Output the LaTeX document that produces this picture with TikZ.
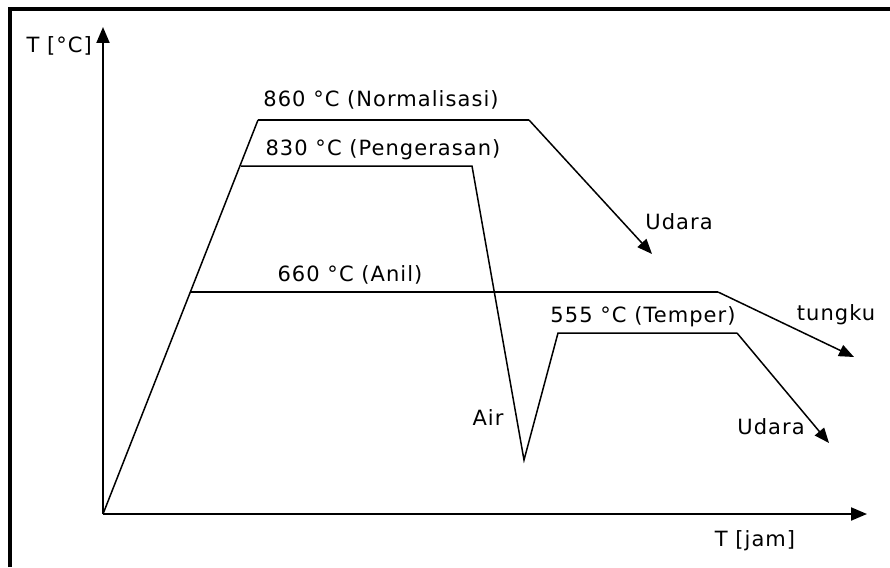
\documentclass[tikz,border=0pt]{standalone}
\usepackage{fontspec}
\setmainfont[LetterSpace=5]{DejaVu Sans}
\usetikzlibrary{arrows.meta}
\begin{document}
\begin{tikzpicture}[x=1pt,y=-1pt,
  lbl/.style={inner sep=0pt,font=\fontsize{21}{24}\selectfont},
  curve/.style={line width=1.5pt,line join=miter},
  axis/.style={line width=2pt,-{Triangle[length=16pt,width=13pt]}},
  tip/.style={-{Triangle[length=15pt,width=12pt]}}]
\useasboundingbox (0,0) rectangle (890,567);
% frame edges
\draw[line width=4pt] (10,567) -- (10,9) -- (890,9);

% axes
\coordinate (O) at (103,514);
\coordinate (ytop) at (103,27);
\coordinate (xend) at (867,514);
\draw[axis] (O) -- (ytop);
\draw[axis] (O) -- (xend);
\node[lbl,anchor=east] (ylab) at (92,46) {T [°C]};
\node[lbl] (xlab) at (755,541) {T [jam]};

% heating ramp
\coordinate (anil) at (190,292);
\coordinate (harden) at (241,166);
\coordinate (norm) at (258,120);
\draw[curve] (O) -- (norm);

% normalising: hold and air cooling
\coordinate (normend) at (529,120);
\coordinate (udara1) at (652,254);
\draw[curve] (norm) -- (normend);
\draw[curve,tip] (normend) -- (udara1);

% hardening: hold, water quench, tempering
\coordinate (hardend) at (472,166);
\coordinate (quench) at (524,460);
\coordinate (temp) at (558,333);
\coordinate (tempend) at (737,333);
\coordinate (udara2) at (829,443);
\draw[curve] (harden) -- (hardend) -- (quench) -- (temp) -- (tempend);
\draw[curve,tip] (tempend) -- (udara2);

% annealing: hold and furnace cooling
\coordinate (anilend) at (718,292);
\coordinate (tungku) at (854,357);
\draw[curve] (anil) -- (anilend);
\draw[curve,tip] (anilend) -- (tungku);

% labels
\node[lbl] (l860) at (381,100) {860 °C (Normalisasi)};
\node[lbl] (l830) at (383,150) {830 °C (Pengerasan)};
\node[lbl] (l660) at (350,275) {660 °C (Anil)};
\node[lbl] (l555) at (643,317) {555 °C (Temper)};
\node[lbl] (lair) at (488,418) {Air};
\node[lbl] (lud1) at (679,222) {Udara};
\node[lbl] (ltun) at (836,315) {tungku};
\node[lbl] (lud2) at (771,427) {Udara};
\end{tikzpicture}
\end{document}
